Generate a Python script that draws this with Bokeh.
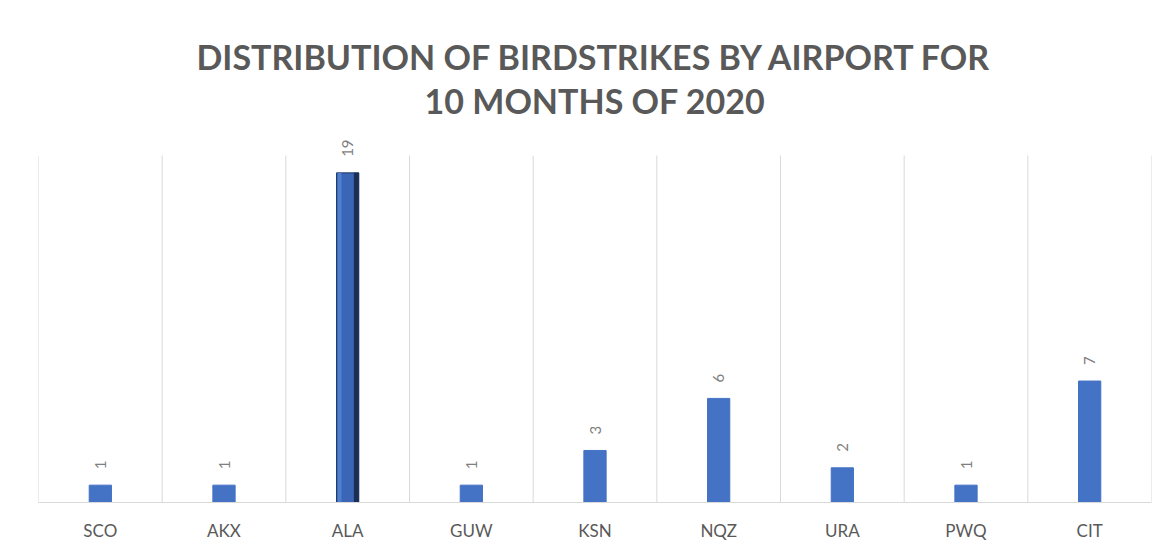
import math
from bokeh.plotting import figure
from bokeh.models import Range1d, FixedTicker, ColumnDataSource, Title
from bokeh.core.properties import value
from bokeh.transform import dodge
from bokeh.embed import file_html
from bokeh.resources import INLINE

airports = ["SCO", "AKX", "ALA", "GUW", "KSN", "NQZ", "URA", "PWQ", "CIT"]
counts = [1, 1, 19, 1, 3, 6, 2, 1, 7]
highlight = "ALA"
axis_max = 20

title_lines = ["DISTRIBUTION OF BIRDSTRIKES BY AIRPORT FOR", "10 MONTHS OF 2020"]

n = len(airports)
xs = [i + 0.5 for i in range(n)]
colors = ["#3A66B5" if a == highlight else "#4472C4" for a in airports]
lines = ["#1F3864" if a == highlight else "#4472C4" for a in airports]

src = ColumnDataSource(dict(x=xs, y=counts, lab=[str(c) for c in counts],
                            color=colors, line=lines))
hl_idx = [i for i, a in enumerate(airports) if a == highlight]
hsrc = ColumnDataSource(dict(x=[xs[i] for i in hl_idx], y=[counts[i] for i in hl_idx]))
bounds = list(range(n + 1))
gsrc = ColumnDataSource(dict(x=bounds, y0=[0] * len(bounds), y1=[axis_max] * len(bounds)))

p = figure(width=1168, height=553, output_backend="svg", toolbar_location=None,
           x_range=Range1d(0, n), y_range=Range1d(0, axis_max * 1.075), title=None,
           min_border_left=38, min_border_right=17, min_border_top=129,
           min_border_bottom=51)

# titles: added from frame outward
for t, so in zip(reversed(title_lines), [18, -17]):
    p.add_layout(Title(text=t, align="center", text_font="Lato",
                       text_font_style="bold", text_font_size="34px",
                       text_color="#595959", standoff=so), "above")

# vertical category separators
p.segment(x0="x", y0="y0", x1="x", y1="y1", source=gsrc, line_color="#D9D9D9", line_width=1)

p.vbar(x="x", top="y", width=0.18, source=src, fill_color="color", line_color="line")
# bevel effect on highlighted bar
p.vbar(x=dodge("x", 0.07, range=p.x_range), top="y", width=0.04, source=hsrc,
       fill_color="#1B2F55", line_color=None)
p.vbar(x=dodge("x", -0.065, range=p.x_range), top="y", width=0.03, source=hsrc,
       fill_color="#4F7FD0", line_color=None)

p.text(x="x", y="y", text="lab", source=src, angle=math.pi / 2,
       text_align="left", text_baseline="middle", y_offset=-16,
       text_font=value("Lato"), text_font_size="15px", text_color="#7F7F7F")

p.xaxis.ticker = FixedTicker(ticks=xs)
p.xaxis.major_label_overrides = {x: a for x, a in zip(xs, airports)}
p.xaxis.major_tick_line_color = None
p.xaxis.minor_tick_line_color = None
p.xaxis.axis_line_color = "#D9D9D9"
p.xaxis.major_label_text_font = "Lato"
p.xaxis.major_label_text_font_size = "17px"
p.xaxis.major_label_text_color = "#595959"
p.xaxis.major_label_standoff = 11

p.yaxis.visible = False
p.grid.grid_line_color = None
p.outline_line_color = None

open("out.html", "w").write(file_html(p, INLINE))
